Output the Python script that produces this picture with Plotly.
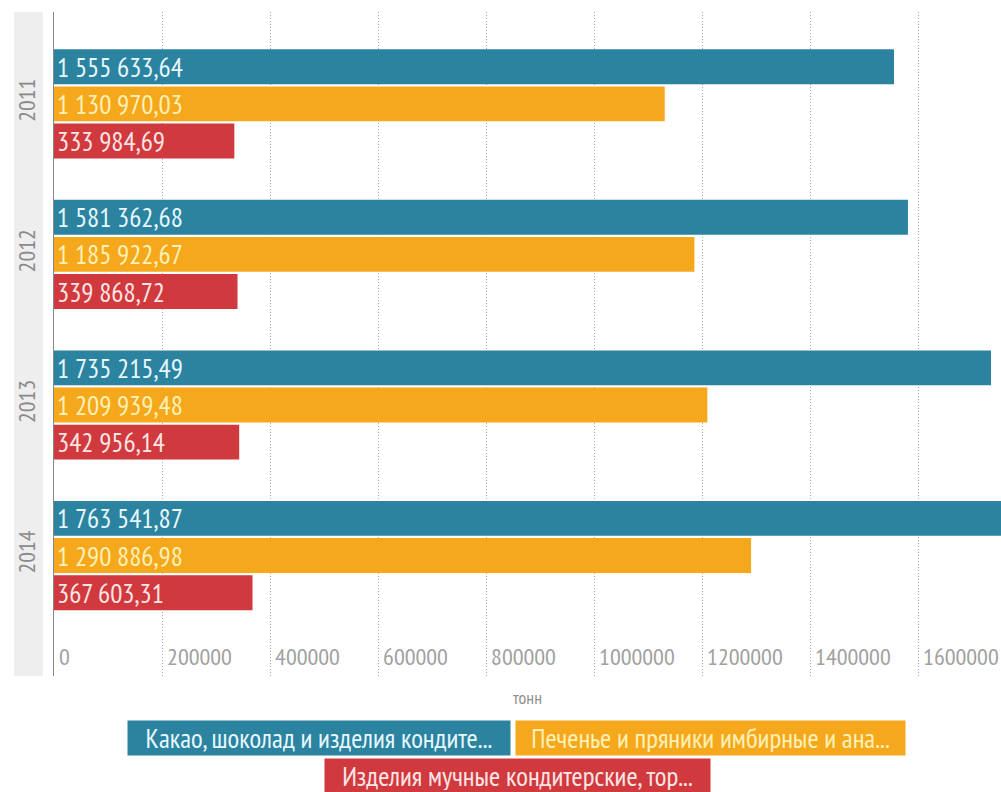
import plotly.graph_objects as go

years = ["2011", "2012", "2013", "2014"]
cocoa = [1555633.64, 1581362.68, 1735215.49, 1763541.87]
biscuits = [1130970.03, 1185922.67, 1209939.48, 1290886.98]
flour = [333984.69, 339868.72, 342956.14, 367603.31]

series_names = [
    "Какао, шоколад и изделия кондите...",
    "Печенье и пряники имбирные и ана...",
    "Изделия мучные кондитерские, тор...",
]
colors = ["#2B83A0", "#F5A81C", "#D0393D"]
label_colors = ["#E8F8FF", "#FFF1B8", "#FFE6E6"]
x_ticks = [0, 200000, 400000, 600000, 800000, 1000000, 1200000, 1400000, 1600000]
x_title = "тонн"

FONT = "Liberation Sans Narrow, PT Sans Narrow, Arial Narrow, DejaVu Sans Condensed, sans-serif"


def fmt(v):
    return f"{v:,.2f}".replace(",", " ").replace(".", ",")


W, H = 1001, 792
L, R, T, B = 54, 0, 12, 116
pw, ph = W - L - R, H - T - B

fig = go.Figure()
for name, vals, c, lc in zip(series_names, [cocoa, biscuits, flour], colors, label_colors):
    fig.add_trace(go.Bar(
        y=years, x=vals, orientation="h", name=name,
        marker=dict(color=c, line=dict(width=0)),
        text=[fmt(v) for v in vals],
        textposition="inside", insidetextanchor="start",
        textfont=dict(family=FONT, size=27, color=lc),
        constraintext="none",
    ))


def px2paper_x(px):
    return (px - L) / pw


def px2paper_y(py):
    return (T + ph - py) / ph


# grey band behind year labels
fig.add_shape(type="rect", xref="paper", yref="paper",
              x0=px2paper_x(14), x1=px2paper_x(43), y0=0, y1=1,
              fillcolor="#EEEEEE", line=dict(width=0), layer="below")

# legend boxes as annotations
legend_boxes = [
    (series_names[0], colors[0], label_colors[0], 128, 510, 738),
    (series_names[1], colors[1], label_colors[1], 516, 905, 738),
    (series_names[2], colors[2], label_colors[2], 325, 710, 776),
]
for txt, bg, fc, x0, x1, yc in legend_boxes:
    fig.add_annotation(
        text=txt, xref="paper", yref="paper",
        x=px2paper_x((x0 + x1) / 2), y=px2paper_y(yc),
        xanchor="center", yanchor="middle", showarrow=False,
        bgcolor=bg, width=x1 - x0 - 6, height=28, borderpad=3,
        font=dict(family=FONT, size=27, color=fc), align="center",
    )

fig.update_layout(
    width=W, height=H,
    margin=dict(l=L, r=R, t=T, b=B),
    paper_bgcolor="white", plot_bgcolor="white",
    barmode="group", bargap=0.26, bargroupgap=0.06,
    showlegend=False,
    font=dict(family=FONT),
    xaxis=dict(
        range=[0, pw / 108 * 200000],
        tickvals=x_ticks, ticktext=[" " + str(t) for t in x_ticks],
        ticklabelposition="inside right",
        tickfont=dict(family=FONT, size=24, color="#A0A0A0"),
        showgrid=True, gridcolor="#AAAAAA", griddash="1px,2px", gridwidth=1,
        zeroline=False, showline=False, ticks="",
        title=dict(text=x_title, font=dict(family=FONT, size=18, color="#909090"), standoff=20),
    ),
    yaxis=dict(
        type="category", range=[3.8, -0.61],
        tickangle=-90, ticks="", ticklabelstandoff=8,
        tickfont=dict(family=FONT, size=24, color="#8A8A8A"),
        showgrid=False, zeroline=False,
        showline=True, linecolor="#888888", linewidth=1,
    ),
)

fig.write_html("out.html")
